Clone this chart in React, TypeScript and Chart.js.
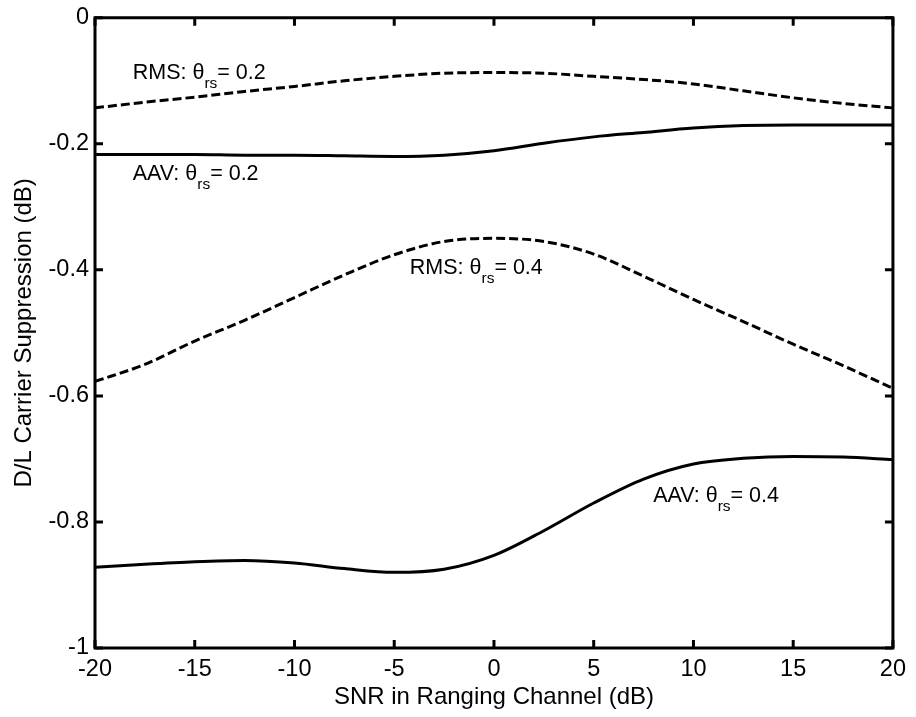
import React, { useEffect, useRef } from "react";
import { Chart, registerables } from "chart.js";

Chart.register(...registerables);

const snr = [-20, -17.5, -15, -12.5, -10, -7.5, -5, -2.5, 0, 2.5, 5, 7.5, 10, 12.5, 15, 17.5, 20];
const rms02 = [-0.143, -0.134, -0.126, -0.117, -0.109, -0.100, -0.093, -0.088, -0.087, -0.088, -0.093, -0.098, -0.105, -0.116, -0.127, -0.136, -0.143];
const aav02 = [-0.217, -0.217, -0.217, -0.218, -0.218, -0.219, -0.220, -0.218, -0.211, -0.199, -0.189, -0.182, -0.175, -0.171, -0.170, -0.170, -0.170];
const rms04 = [-0.577, -0.550, -0.513, -0.480, -0.444, -0.408, -0.376, -0.355, -0.350, -0.355, -0.375, -0.410, -0.447, -0.482, -0.518, -0.552, -0.588];
const aav04 = [-0.872, -0.867, -0.863, -0.861, -0.865, -0.874, -0.880, -0.875, -0.853, -0.814, -0.770, -0.732, -0.708, -0.699, -0.696, -0.697, -0.701];

const xTicks = [-20, -15, -10, -5, 0, 5, 10, 15, 20];
const yTicks = [-1, -0.8, -0.6, -0.4, -0.2, 0];

const xTitle = "SNR in Ranging Channel (dB)";
const yTitle = "D/L Carrier Suppression (dB)";

const labelPrefix = ["RMS: θ", "AAV: θ", "RMS: θ", "AAV: θ"];
const labelSub = ["rs", "rs", "rs", "rs"];
const labelSuffix = ["= 0.2", "= 0.2", "= 0.4", "= 0.4"];
const labelX = [-18.11, -18.11, -4.22, 7.98];
const labelY = [-0.0976, -0.258, -0.407, -0.769];

const FONT = "'Liberation Sans', Arial, Helvetica, sans-serif";

const framePlugin = {
  id: "frame",
  afterDatasetsDraw(chart: any) {
    const { ctx, chartArea } = chart;
    const { left, right, top, bottom } = chartArea;
    const xs = chart.scales.x;
    const ys = chart.scales.y;
    ctx.save();
    ctx.strokeStyle = "#000";
    ctx.lineWidth = 3;
    ctx.lineCap = "butt";
    ctx.strokeRect(left, top, right - left, bottom - top);
    const tl = 8;
    ctx.beginPath();
    xTicks.forEach((v) => {
      const px = xs.getPixelForValue(v);
      ctx.moveTo(px, bottom);
      ctx.lineTo(px, bottom - tl);
      ctx.moveTo(px, top);
      ctx.lineTo(px, top + tl);
    });
    yTicks.forEach((v) => {
      const py = ys.getPixelForValue(v);
      ctx.moveTo(left, py);
      ctx.lineTo(left + tl, py);
      ctx.moveTo(right, py);
      ctx.lineTo(right - tl, py);
    });
    ctx.stroke();
    ctx.restore();
  },
};

const labelPlugin = {
  id: "curveLabels",
  afterDatasetsDraw(chart: any) {
    const { ctx } = chart;
    const xs = chart.scales.x;
    const ys = chart.scales.y;
    ctx.save();
    ctx.fillStyle = "#000";
    ctx.textBaseline = "alphabetic";
    ctx.textAlign = "left";
    for (let i = 0; i < labelPrefix.length; i++) {
      let px = xs.getPixelForValue(labelX[i]);
      const py = ys.getPixelForValue(labelY[i]);
      ctx.font = `21.5px ${FONT}`;
      ctx.fillText(labelPrefix[i], px, py);
      px += ctx.measureText(labelPrefix[i]).width;
      ctx.font = `15.5px ${FONT}`;
      ctx.fillText(labelSub[i], px, py + 9);
      px += ctx.measureText(labelSub[i]).width;
      ctx.font = `21.5px ${FONT}`;
      ctx.fillText(labelSuffix[i], px, py);
    }
    ctx.restore();
  },
};

function fmt(v: number) {
  return String(Number(v.toFixed(1)));
}

export default function App() {
  const ref = useRef<HTMLCanvasElement | null>(null);
  useEffect(() => {
    if (!ref.current) return;
    const mk = (ys: number[]) => snr.map((x, i) => ({ x, y: ys[i] }));
    const solid = { borderColor: "#000", borderWidth: 3, pointRadius: 0, cubicInterpolationMode: "monotone" as const, fill: false };
    const dashed = { ...solid, borderDash: [9, 4] };
    const chart = new Chart(ref.current, {
      type: "line",
      data: {
        datasets: [
          { label: "RMS 0.2", data: mk(rms02), ...dashed },
          { label: "AAV 0.2", data: mk(aav02), ...solid },
          { label: "RMS 0.4", data: mk(rms04), ...dashed },
          { label: "AAV 0.4", data: mk(aav04), ...solid },
        ],
      },
      options: {
        responsive: false,
        animation: false,
        devicePixelRatio: 1,
        layout: { padding: { left: 0, top: 13, right: 18, bottom: 0 } },
        plugins: { legend: { display: false }, tooltip: { enabled: false } },
        scales: {
          x: {
            type: "linear",
            min: -20,
            max: 20,
            afterFit: (s: any) => { s.height = 69; },
            afterBuildTicks: (s: any) => { s.ticks = xTicks.map((v) => ({ value: v })); },
            grid: { display: false, drawTicks: false },
            border: { display: false },
            ticks: {
              color: "#000",
              padding: 10,
              maxRotation: 0,
              font: { family: FONT, size: 23.5, lineHeight: 1 },
              callback: (v: any) => fmt(Number(v)),
            },
            title: {
              display: true,
              text: xTitle,
              color: "#000",
              font: { family: FONT, size: 24, lineHeight: 1 },
              padding: { top: 0, bottom: 8 },
            },
          },
          y: {
            type: "linear",
            min: -1,
            max: 0,
            afterFit: (s: any) => { s.width = 95; },
            afterBuildTicks: (s: any) => { s.ticks = yTicks.map((v) => ({ value: v })); },
            grid: { display: false, drawTicks: false },
            border: { display: false },
            ticks: {
              color: "#000",
              padding: 6,
              font: { family: FONT, size: 23.5, lineHeight: 1 },
              callback: (v: any) => fmt(Number(v)),
            },
            title: {
              display: true,
              text: yTitle,
              color: "#000",
              font: { family: FONT, size: 24, lineHeight: 1 },
              padding: { top: 12, bottom: 0 },
            },
          },
        },
      },
      plugins: [framePlugin, labelPlugin],
    });
    return () => chart.destroy();
  }, []);
  return (
    <div style={{ position: "fixed", left: 0, top: 0, width: 916, height: 717, background: "#fff" }}>
      <canvas ref={ref} width={916} height={717} style={{ display: "block" }} />
    </div>
  );
}
